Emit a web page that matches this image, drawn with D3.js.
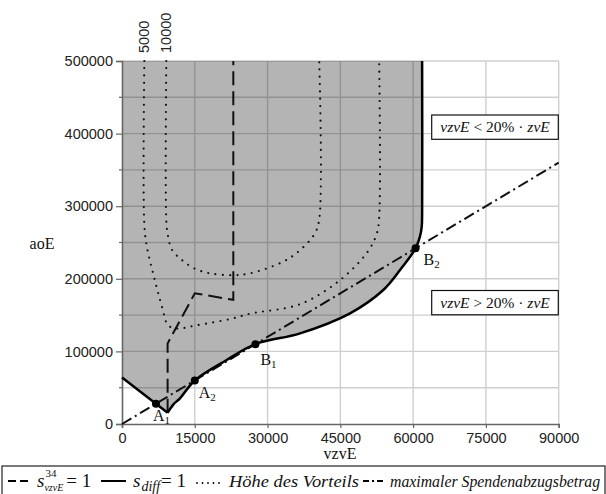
<!DOCTYPE html>
<html>
<head>
<meta charset="utf-8">
<script src="https://cdn.jsdelivr.net/npm/d3@7/dist/d3.min.js"></script>
<style>
  html, body { margin: 0; padding: 0; background: #fff; }
  svg { display: block; }
  .tick-label { font-family: "Liberation Sans", Arial, sans-serif; font-size: 14.5px; fill: #222; }
  .serif { font-family: "Liberation Serif", "DejaVu Serif", serif; fill: #111; }
</style>
</head>
<body>
<svg id="chart" width="606" height="494"></svg>
<script>
// ---- data -------------------------------------------------------------
const xTicks = [0, 15000, 30000, 45000, 60000, 75000, 90000];
const xTickLabels = ["0", "15000", "30000", "45000", "60000", "75000", "90000"];
const yTicks = [0, 100000, 200000, 300000, 400000, 500000];
const yTickLabels = ["0", "100000", "200000", "300000", "400000", "500000"];
const yMinorTicks = [50000, 150000, 250000, 350000, 450000];
const yGrid = [50000, 100000, 150000, 200000, 250000, 300000, 350000, 400000, 450000];

// s_diff = 1 : straight falling part, then the smooth rising branch
const sDiffLinear = [[0, 64000], [9400, 15500]];
const sDiffCurve = [
  [9400, 15500], [10600, 27000], [11950, 35400], [15000, 60000], [21570, 88150], [27500, 110000],
  [36700, 124900], [47000, 152500], [53850, 184600], [57300, 212100], [60500, 242000],
  [61400, 258000], [61770, 272000], [61850, 290000], [61850, 500000]
];

// s^34_vzvE = 1
const s34Line = [[9400, 15500], [9400, 111000], [15000, 180000], [22940, 171000], [22940, 500000]];

// Höhe des Vorteils (iso-lines)
const advantageLevels = ["5000", "10000"];
const advantage5000 = [
  [4600, 500000], [4600, 275000], [5100, 245000], [6500, 205000], [8300, 160000],
  [9500, 136000], [11300, 131500], [15400, 136000], [22900, 145500], [26400, 152000],
  [36700, 165000], [44900, 198000], [50600, 237000], [52500, 262000], [53000, 285000],
  [53000, 500000]
];
const advantage10000 = [
  [9130, 500000], [9130, 280000], [9450, 260000], [10300, 240000], [12500, 225000],
  [15000, 214000], [18100, 207500], [22900, 205000], [26400, 207500], [33200, 223500],
  [36700, 239500], [39700, 262000], [40650, 282000], [40650, 500000]
];

// maximaler Spendenabzugsbetrag: aoE = 4 · vzvE
const maxDeduction = [[0, 0], [90000, 360000]];

// marked intersection points
const pointNames = ["A", "A", "B", "B"];
const pointSubs = ["1", "2", "1", "2"];
const pointValues = [[7000, 28000], [15000, 60000], [27500, 110000], [60500, 242000]];

// ---- layout -----------------------------------------------------------
const svg = d3.select("#chart");
const x = d3.scaleLinear().domain([0, 90000]).range([122, 558.7]);
const y = d3.scaleLinear().domain([0, 500000]).range([424, 61]);

const lineLin = d3.line().x(d => x(d[0])).y(d => y(d[1]));
const lineSmooth = d3.line().x(d => x(d[0])).y(d => y(d[1])).curve(d3.curveCatmullRom.alpha(0.5));

// grid
const grid = svg.append("g");
grid.selectAll(".gx").data(xTicks.slice(1)).join("line")
  .attr("x1", d => x(d)).attr("x2", d => x(d)).attr("y1", y(0)).attr("y2", y(500000))
  .attr("stroke", "#cfcfcf").attr("stroke-width", 1.4);
grid.selectAll(".gy").data(yGrid.concat([500000])).join("line")
  .attr("x1", x(0)).attr("x2", x(90000)).attr("y1", d => y(d)).attr("y2", d => y(d))
  .attr("stroke", "#cfcfcf").attr("stroke-width", 1.4);

// shaded region above s_diff = 1
const fillPath = "M" + x(0) + "," + y(500000) +
  lineLin(sDiffLinear).replace(/^M/, "L") +
  lineSmooth(sDiffCurve).replace(/^M/, "L") + "Z";
svg.append("path").attr("d", fillPath).attr("fill", "#000").attr("fill-opacity", 0.295);

// axes
const xAxis = svg.append("g").attr("transform", `translate(0,${y(0)})`)
  .call(d3.axisBottom(x).tickValues(xTicks).tickFormat((d, i) => xTickLabels[i]).tickSize(4).tickPadding(5));
const yAxis = svg.append("g").attr("transform", `translate(${x(0)},0)`)
  .call(d3.axisLeft(y).tickValues(yTicks).tickFormat((d, i) => yTickLabels[i]).tickSize(6).tickPadding(3));
[xAxis, yAxis].forEach(a => {
  a.select(".domain").attr("stroke", "#666").attr("stroke-width", 1.6);
  a.selectAll(".tick line").attr("stroke", "#666").attr("stroke-width", 1.2);
  a.selectAll(".tick text").attr("class", "tick-label").attr("font-family", null).attr("font-size", null);
});
yAxis.selectAll(".minor").data(yMinorTicks).join("line")
  .attr("x1", -3).attr("x2", 0).attr("y1", d => y(d)).attr("y2", d => y(d))
  .attr("stroke", "#666").attr("stroke-width", 1.2);

// axis titles
svg.append("text").attr("class", "serif").attr("x", 340).attr("y", 459)
  .attr("text-anchor", "middle").attr("font-size", 16).text("vzvE");
svg.append("text").attr("class", "serif").attr("x", 42).attr("y", 249)
  .attr("text-anchor", "middle").attr("font-size", 16).text("aoE");

// curves
svg.append("path").attr("d", lineSmooth(advantage5000)).attr("fill", "none")
  .attr("stroke", "#111").attr("stroke-width", 2.2).attr("stroke-linecap", "round").attr("stroke-dasharray", "0,7.3");
svg.append("path").attr("d", lineSmooth(advantage10000)).attr("fill", "none")
  .attr("stroke", "#111").attr("stroke-width", 2.2).attr("stroke-linecap", "round").attr("stroke-dasharray", "0,7.3");

svg.append("path").attr("d", lineLin(s34Line)).attr("fill", "none")
  .attr("stroke", "#111").attr("stroke-width", 2).attr("stroke-dasharray", "14,6");

svg.append("path").attr("d", lineLin(maxDeduction)).attr("fill", "none")
  .attr("stroke", "#111").attr("stroke-width", 2).attr("stroke-dasharray", "11,4,2,4");

svg.append("path").attr("d", lineLin(sDiffLinear)).attr("fill", "none")
  .attr("stroke", "#000").attr("stroke-width", 2.5);
svg.append("path").attr("d", lineSmooth(sDiffCurve)).attr("fill", "none")
  .attr("stroke", "#000").attr("stroke-width", 2.5);

// iso-line level labels (rotated, at top)
const levelX = [advantage5000[0][0], advantage10000[0][0]];
advantageLevels.forEach((t, i) => {
  svg.append("text").attr("class", "tick-label")
    .attr("transform", `translate(${x(levelX[i]) + 5},53) rotate(-90)`)
    .attr("text-anchor", "start").text(t);
});

// points and their names
const labelOffsets = [[-3, 17], [4, 18], [5, 21], [8, 17]];
pointValues.forEach((p, i) => {
  svg.append("circle").attr("cx", x(p[0])).attr("cy", y(p[1])).attr("r", 4).attr("fill", "#000");
  const t = svg.append("text").attr("class", "serif").attr("font-size", 16)
    .attr("x", x(p[0]) + labelOffsets[i][0]).attr("y", y(p[1]) + labelOffsets[i][1]);
  t.append("tspan").text(pointNames[i]);
  t.append("tspan").attr("font-size", 11).attr("dy", 3).text(pointSubs[i]);
});

// region notes
function noteBox(yTop, rel) {
  const g = svg.append("g");
  g.append("rect").attr("x", 431.7).attr("y", yTop).attr("width", 126.6).attr("height", 24.3)
    .attr("fill", "#fff").attr("stroke", "#111").attr("stroke-width", 1.2);
  const t = g.append("text").attr("class", "serif").attr("font-size", 15.5)
    .attr("x", 495).attr("y", yTop + 17).attr("text-anchor", "middle");
  t.append("tspan").attr("font-style", "italic").text("vzvE");
  t.append("tspan").text(" " + rel + " 20% · ");
  t.append("tspan").attr("font-style", "italic").text("zvE");
}
noteBox(115, "<");
noteBox(290.5, ">");

// legend
const lg = svg.append("g");
lg.append("rect").attr("x", 2).attr("y", 466).attr("width", 603).attr("height", 40)
  .attr("fill", "#fff").attr("stroke", "#222").attr("stroke-width", 1.2);
const ly = 481;
lg.append("line").attr("x1", 8).attr("x2", 29).attr("y1", ly).attr("y2", ly)
  .attr("stroke", "#000").attr("stroke-width", 2).attr("stroke-dasharray", "8,4");
const t1 = lg.append("text").attr("class", "serif").attr("x", 37).attr("y", 487).attr("font-size", 19);
t1.append("tspan").attr("font-style", "italic").text("s");
t1.append("tspan").attr("font-size", 11).attr("dy", -10).attr("dx", 1).text("34");
t1.append("tspan").attr("font-size", 10).attr("font-style", "italic").attr("dy", 14).attr("dx", -12).text("vzvE");
t1.append("tspan").attr("dy", -4).attr("dx", 3).text("= 1");
lg.append("line").attr("x1", 101).attr("x2", 126).attr("y1", ly).attr("y2", ly)
  .attr("stroke", "#000").attr("stroke-width", 2);
const t2 = lg.append("text").attr("class", "serif").attr("x", 133).attr("y", 487).attr("font-size", 19);
t2.append("tspan").attr("font-style", "italic").text("s");
t2.append("tspan").attr("font-size", 14).attr("font-style", "italic").attr("dy", 4).attr("dx", 1).text("diff");
t2.append("tspan").attr("dy", -4).attr("dx", 1).text("= 1");
lg.append("line").attr("x1", 197).attr("x2", 223).attr("y1", ly + 2).attr("y2", ly + 2)
  .attr("stroke", "#000").attr("stroke-width", 1.8).attr("stroke-linecap", "round").attr("stroke-dasharray", "0,5.5");
lg.append("text").attr("class", "serif").attr("x", 229).attr("y", 487).attr("font-size", 17.5)
  .attr("font-style", "italic").attr("textLength", 130).attr("lengthAdjust", "spacingAndGlyphs").text("Höhe des Vorteils");
lg.append("line").attr("x1", 363).attr("x2", 384).attr("y1", ly).attr("y2", ly)
  .attr("stroke", "#000").attr("stroke-width", 2).attr("stroke-dasharray", "6,3,2,3");
lg.append("text").attr("class", "serif").attr("x", 390).attr("y", 487).attr("font-size", 15.8)
  .attr("font-style", "italic").text("maximaler Spendenabzugsbetrag");
</script>
</body>
</html>
